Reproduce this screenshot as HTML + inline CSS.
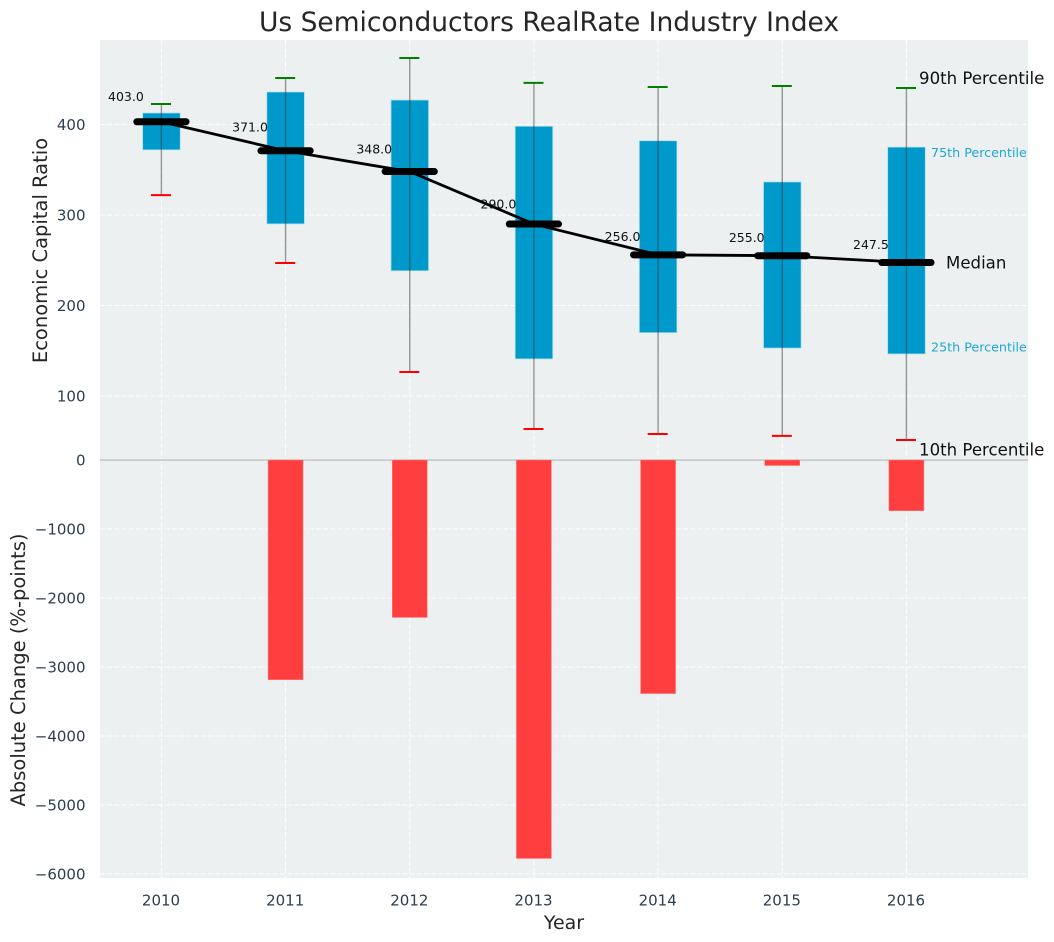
<!DOCTYPE html>
<html>
<head>
<meta charset="utf-8">
<title>Us Semiconductors RealRate Industry Index</title>
<style>
html,body{margin:0;padding:0;background:#fff;width:1054px;height:942px;overflow:hidden}
svg{display:block}
text{font-family:"DejaVu Sans","Liberation Sans",sans-serif}
</style>
</head>
<body>
<svg id="chart" xmlns="http://www.w3.org/2000/svg" width="1054" height="942" viewBox="0 0 1054 942">
<rect x="0" y="0" width="1054" height="942" fill="#fff"/>
<rect x="100" y="40" width="928" height="419" fill="#ecf0f1"/>
<rect x="100" y="460" width="928" height="418" fill="#ecf0f1"/>
<g id="grid"></g>
<g id="bars"></g>
<g id="boxes"></g>
<g id="whiskers"></g>
<g id="medianLine"></g>
<g id="ticks"></g>
<g id="labels"></g>
<g id="keys"></g>
<text x="549" y="31" text-anchor="middle" font-size="26.5" fill="#262626">Us Semiconductors RealRate Industry Index</text>
<text x="564" y="929" text-anchor="middle" font-size="19" fill="#262626">Year</text>
<text transform="translate(47,250.5) rotate(-90)" text-anchor="middle" font-size="19.5" fill="#262626">Economic Capital Ratio</text>
<text transform="translate(25,670) rotate(-90)" text-anchor="middle" font-size="19.5" fill="#262626">Absolute Change (%-points)</text>
</svg>
<script>
const years = [2010, 2011, 2012, 2013, 2014, 2015, 2016];
const p90 = [422.7, 451.4, 473.5, 446, 441.5, 442.5, 440.3];
const p75 = [412.7, 435.9, 427, 398, 382, 336.5, 375];
const medians = [403, 371, 348, 290, 256, 255, 247.5];
const p25 = [372, 290.2, 238.4, 141, 170, 153, 146.5];
const p10 = [322, 247, 126.5, 63.5, 58, 56, 51.4];
const changes = [null, -3185, -2282, -5775, -3385, -80, -735];
const upperTicks = [100, 200, 300, 400];
const lowerTicks = [0, -1000, -2000, -3000, -4000, -5000, -6000];

const NS = 'http://www.w3.org/2000/svg';
function xAt(i) { return 161.4 + 124.17 * i; }
function yUp(v) { return 124.5 + (400 - v) * 0.905; }
function yLow(v) { return 460 - v * 0.069; }
function make(parent, tag, attrs, text) {
  const el = document.createElementNS(NS, tag);
  for (const k in attrs) el.setAttribute(k, attrs[k]);
  if (text !== undefined) el.textContent = text;
  document.getElementById(parent).appendChild(el);
  return el;
}
function fmt(v) { return String(v).replace('-', '\u2212'); }

/* grid */
const gridStyle = { stroke: '#fff', 'stroke-width': 1, 'stroke-dasharray': '5 2.2', 'stroke-opacity': 0.85 };
years.forEach(function (yr, i) {
  const l = make('grid', 'line', Object.assign({ x1: xAt(i), x2: xAt(i), y1: 40, y2: 878 }, gridStyle));
  
  
  const t = make('ticks', 'text', { x: xAt(i) - 0.4, y: 905.5, 'text-anchor': 'middle', 'font-size': 15, fill: '#2c3e50' }, yr);
  
  
});
upperTicks.forEach(function (v) {
  const l = make('grid', 'line', Object.assign({ x1: 100, x2: 1028, y1: yUp(v), y2: yUp(v) }, gridStyle));
  
  
  const t = make('ticks', 'text', { x: 85.5, y: yUp(v) + 5.5, 'text-anchor': 'end', 'font-size': 15, fill: '#2c3e50' }, fmt(v));
  
  
});
lowerTicks.forEach(function (v) {
  const l = make('grid', 'line', Object.assign({ x1: 100, x2: 1028, y1: yLow(v), y2: yLow(v) }, gridStyle));
  
  
  const t = make('ticks', 'text', { x: 85.5, y: yLow(v) + 5.5, 'text-anchor': 'end', 'font-size': 15, fill: '#2c3e50' }, fmt(v));
  
  
});

/* zero line */
const zero = make('grid', 'line', { x1: 100, x2: 1028, y1: yLow(0), y2: yLow(0), stroke: '#b5b8b9', 'stroke-width': 1.2 });



/* red bars */
changes.forEach(function (v, i) {
  if (v === null) return;
  const b = make('bars', 'rect', { x: xAt(i) - 17.5, y: yLow(0), width: 35, height: yLow(v) - yLow(0), fill: '#ff3f3f', stroke: '#ff8080', 'stroke-width': 0.5 });
  
  
});

/* boxes, whiskers, caps */
years.forEach(function (yr, i) {
  const x = xAt(i);
  const b = make('boxes', 'rect', { x: x - 18.7, y: yUp(p75[i]), width: 37.5, height: yUp(p25[i]) - yUp(p75[i]), fill: '#0099cc', stroke: '#a8dcec', 'stroke-width': 0.7 });
  
  
  const w = make('whiskers', 'line', { x1: x, x2: x, y1: yUp(p90[i]), y2: yUp(p10[i]), stroke: '#333', 'stroke-opacity': 0.5, 'stroke-width': 1.4 });
  
  
  const c1 = make('whiskers', 'line', { x1: x - 10.4, x2: x + 9.6, y1: yUp(p90[i]), y2: yUp(p90[i]), stroke: '#008000', 'stroke-width': 2 });
  
  
  const c2 = make('whiskers', 'line', { x1: x - 10.4, x2: x + 9.6, y1: yUp(p10[i]), y2: yUp(p10[i]), stroke: '#ff0000', 'stroke-width': 2 });
  
  
});

/* median line and caps */
const pts = medians.map(function (v, i) { return xAt(i) + ',' + yUp(v); }).join(' ');
const ml = make('medianLine', 'polyline', { points: pts, fill: 'none', stroke: '#000', 'stroke-width': 2.8 });


medians.forEach(function (v, i) {
  const x = xAt(i), y = yUp(v);
  const c = make('medianLine', 'line', { x1: x - 24.6, x2: x + 24.6, y1: y, y2: y, stroke: '#000', 'stroke-width': 7, 'stroke-linecap': 'round' });
  
  
  const t = make('labels', 'text', { x: x - 53.4, y: yUp(v * 1.05) - 2.3, 'font-size': 12.5, fill: '#111' }, v.toFixed(1));
  
  
});

/* annotations on last year */
const last = years.length - 1;
const lastX = xAt(last);
const k1 = make('keys', 'text', { x: lastX + 12.6, y: yUp(p90[last]) - 4, 'font-size': 16.6, fill: '#111' }, '90th Percentile');


const k2 = make('keys', 'text', { x: lastX + 24.6, y: yUp(p75[last]) + 10, 'font-size': 12.7, fill: '#1fa7d3' }, '75th Percentile');


const k3 = make('keys', 'text', { x: lastX + 39.6, y: yUp(medians[last]) + 6, 'font-size': 16.6, fill: '#111' }, 'Median');


const k4 = make('keys', 'text', { x: lastX + 24.6, y: yUp(p25[last]) - 2.5, 'font-size': 12.7, fill: '#1fa7d3' }, '25th Percentile');


const k5 = make('keys', 'text', { x: lastX + 12.6, y: yUp(p10[last]) + 15.5, 'font-size': 16.6, fill: '#111' }, '10th Percentile');


</script>
</body>
</html>
